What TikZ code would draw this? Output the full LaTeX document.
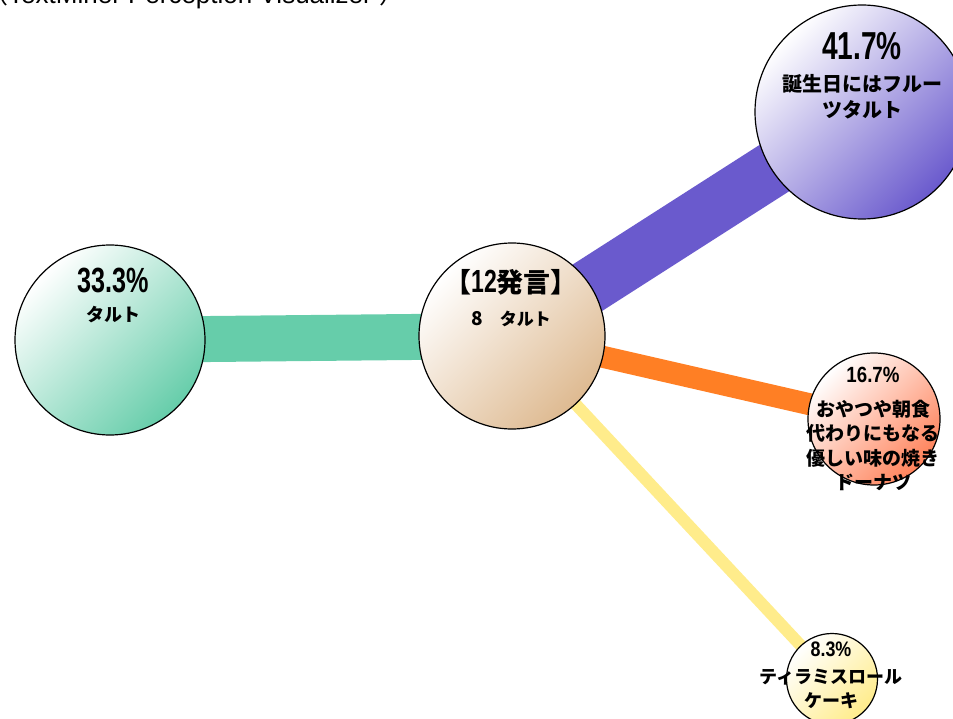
\documentclass[tikz,border=0pt]{standalone}
\usepackage{fontspec}
\setmainfont{Liberation Sans}
\newfontfamily\jpfont{Noto Sans CJK JP}
\newfontfamily\bignum{Liberation Sans}[FakeStretch=0.72]
\newfontfamily\smallnum{Liberation Sans}[FakeStretch=0.85]
\definecolor{vert}{RGB}{102,205,170}
\definecolor{violet}{RGB}{106,90,205}
\definecolor{orange}{RGB}{255,127,36}
\definecolor{corail}{RGB}{255,130,90}
\definecolor{jaune}{RGB}{255,236,139}
\definecolor{beige}{RGB}{222,186,145}
\pgfdeclarelayer{fond}
\pgfsetlayers{fond,main}

\begin{document}
\begin{tikzpicture}[x=1pt, y=-1pt]
\tikzset{bulle/.style={draw, circle, line width=1.2pt, inner sep=0pt, top color=white, bottom color=#1, shading angle=45}}
\tikzset{texte/.style={anchor=north, align=center, inner sep=0pt, font=\jpfont\bfseries}}
\useasboundingbox (0,0) rectangle (953,719);
\node[anchor=base west, inner sep=0pt, font=\fontsize{26}{26}\selectfont] (titre) at (-18,4) {{\jpfont （}TextMiner Perception Visualizer {\jpfont ）}};
\node[bulle=beige, minimum size=186pt] (B0) at (512,336) {};
\node[bulle=vert, minimum size=190pt] (B1) at (110,340) {};
\node[bulle=violet, minimum size=214pt] (B2) at (862,112) {};
\node[bulle=corail, minimum size=132pt] (B3) at (874,419) {};
\node[bulle=jaune, minimum size=91pt] (B4) at (832,679) {};
\node[texte, font=\jpfont\bfseries\fontsize{17}{33}\selectfont] (T0) at (511,269) {{\fontsize{27}{27}\selectfont 【{\bignum\fontsize{32}{32}\selectfont 12}発言】}\\{\fontsize{19}{19}\selectfont 8}　タルト};
\node[texte, font=\jpfont\bfseries\fontsize{18}{29}\selectfont] (T1) at (113,268) {{\bignum\fontsize{35}{35}\selectfont 33.3\%}\\タルト};
\node[texte, font=\jpfont\bfseries\fontsize{20}{26}\selectfont] (T2) at (862,32) {{\bignum\fontsize{39}{39}\selectfont 41.7\%}\\[6pt]誕生日にはフルー\\ツタルト};
\node[texte, font=\jpfont\bfseries\fontsize{19}{24.5}\selectfont] (T3) at (873,367) {{\smallnum\fontsize{22}{22}\selectfont 16.7\%}\\[9pt]おやつや朝食\\代わりにもなる\\優しい味の焼き\\ドーナツ};
\node[texte, font=\jpfont\bfseries\fontsize{18}{24}\selectfont] (T4) at (831,642) {{\smallnum\fontsize{21}{21}\selectfont 8.3\%}\\[3pt]ティラミスロール\\ケーキ};
\begin{pgfonlayer}{fond}
\draw[line width=46pt, vert] (B0.center) -- (B1.center);
\draw[line width=55pt, violet] (B0.center) -- (B2.center);
\draw[line width=22pt, orange] (B0.center) -- (B3.center);
\draw[line width=12pt, jaune] (B0.center) -- (B4.center);
\end{pgfonlayer}
\end{tikzpicture}
\end{document}
